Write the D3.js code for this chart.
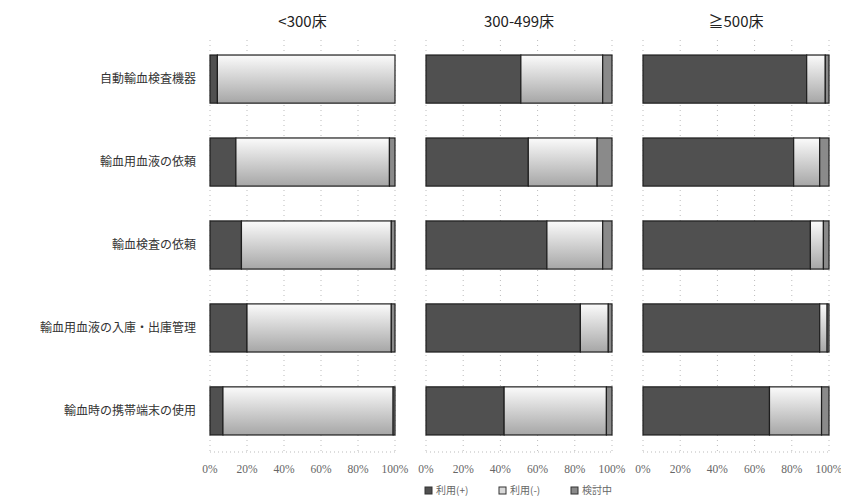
<!DOCTYPE html>
<html>
<head>
<meta charset="utf-8">
<script src="https://cdn.jsdelivr.net/npm/d3@7/dist/d3.min.js"></script>
<style>
  html, body { margin: 0; padding: 0; background: #fff; }
  svg { display: block; }
</style>
</head>
<body>
<svg id="chart" width="841" height="497"></svg>
<script>
// Categories (rows) and bed-size groups (panels)
const categories = [
  "自動輸血検査機器",
  "輸血用血液の依頼",
  "輸血検査の依頼",
  "輸血用血液の入庫・出庫管理",
  "輸血時の携帯端末の使用"
];
const groups = ["<300床", "300-499床", "≧500床"];
const seriesNames = ["利用(+)", "利用(-)", "検討中"];
const tickLabels = ["0%", "20%", "40%", "60%", "80%", "100%"];
const tickValues = [0, 20, 40, 60, 80, 100];

// Percentages per group, one entry per category
const usePlus = [
  [4, 14, 17, 20, 7],
  [51, 55, 65, 83, 42],
  [88, 81, 90, 95, 68]
];
const useMinus = [
  [96, 83, 81, 78, 92],
  [44, 37, 30, 15, 55],
  [10, 14, 7, 4, 28]
];
const considering = [
  [0, 3, 2, 2, 1],
  [5, 8, 5, 2, 3],
  [2, 5, 3, 1, 4]
];

const svg = d3.select("#chart");
const defs = svg.append("defs");
const grad = defs.append("linearGradient")
  .attr("id", "lightGrad").attr("x1", 0).attr("y1", 0).attr("x2", 0).attr("y2", 1);
grad.append("stop").attr("offset", "0%").attr("stop-color", "#fbfbfb");
grad.append("stop").attr("offset", "100%").attr("stop-color", "#a6a6a6");

const fills = ["#505050", "url(#lightGrad)", "#8a8a8a"];
const legendFills = ["#505050", "#d8d8d8", "#8a8a8a"];

const panelRanges = [[210, 395], [426, 612], [643, 829]];

const y = d3.scaleBand()
  .domain(categories)
  .range([37.6, 452.4])
  .paddingInner(0.42)
  .paddingOuter(0.21);

const jpFont = "'Noto Sans CJK JP', 'Noto Sans', sans-serif";

// Category labels
svg.append("g")
  .selectAll("text")
  .data(categories)
  .join("text")
  .attr("x", 196)
  .attr("y", d => y(d) + y.bandwidth() / 2)
  .attr("dy", "0.35em")
  .attr("text-anchor", "end")
  .attr("font-family", jpFont)
  .attr("font-size", 12)
  .attr("fill", "#333")
  .text(d => d);

groups.forEach((g, gi) => {
  const x = d3.scaleLinear().domain([0, 100]).range(panelRanges[gi]);
  const panel = svg.append("g");

  // Title
  panel.append("text")
    .attr("x", (panelRanges[gi][0] + panelRanges[gi][1]) / 2)
    .attr("y", 27)
    .attr("text-anchor", "middle")
    .attr("font-family", jpFont)
    .attr("font-size", 15)
    .attr("fill", "#222")
    .text(g);

  // Dotted vertical grid
  panel.append("g")
    .selectAll("line")
    .data(tickValues)
    .join("line")
    .attr("x1", d => x(d)).attr("x2", d => x(d))
    .attr("y1", 40).attr("y2", 452)
    .attr("stroke", "#bbb")
    .attr("stroke-width", 1)
    .attr("stroke-dasharray", "1,4");

  // Dotted baseline
  panel.append("line")
    .attr("x1", x(0)).attr("x2", x(100))
    .attr("y1", 452).attr("y2", 452)
    .attr("stroke", "#bbb")
    .attr("stroke-dasharray", "1,3");

  // Stacked data rows
  const rows = categories.map((c, ci) => ({
    cat: c,
    [seriesNames[0]]: usePlus[gi][ci],
    [seriesNames[1]]: useMinus[gi][ci],
    [seriesNames[2]]: considering[gi][ci]
  }));
  const stacked = d3.stack().keys(seriesNames)(rows);

  stacked.forEach((layer, si) => {
    panel.append("g")
      .selectAll("rect")
      .data(layer)
      .join("rect")
      .attr("x", d => x(d[0]))
      .attr("y", d => y(d.data.cat))
      .attr("width", d => Math.max(0, x(d[1]) - x(d[0])))
      .attr("height", y.bandwidth())
      .attr("fill", fills[si])
      .attr("stroke", "#1e1e1e")
      .attr("stroke-width", 1.2);
  });

  // Tick labels
  panel.append("g")
    .selectAll("text")
    .data(tickValues)
    .join("text")
    .attr("x", d => x(d))
    .attr("y", 473)
    .attr("text-anchor", "middle")
    .attr("font-family", "'Liberation Serif', 'DejaVu Serif', serif")
    .attr("font-size", 11.5)
    .attr("fill", "#666")
    .text((d, i) => tickLabels[i]);
});

// Legend
const legend = svg.append("g").attr("transform", "translate(425,494)");
const legendX = [0, 74, 146];
seriesNames.forEach((s, i) => {
  const item = legend.append("g").attr("transform", `translate(${legendX[i]},0)`);
  item.append("rect")
    .attr("x", 0).attr("y", -7)
    .attr("width", 7).attr("height", 7)
    .attr("fill", legendFills[i])
    .attr("stroke", "#333").attr("stroke-width", 1);
  item.append("text")
    .attr("x", 11).attr("y", 0)
    .attr("font-family", jpFont)
    .attr("font-size", 10)
    .attr("fill", "#666")
    .text(s);
});
</script>
</body>
</html>
